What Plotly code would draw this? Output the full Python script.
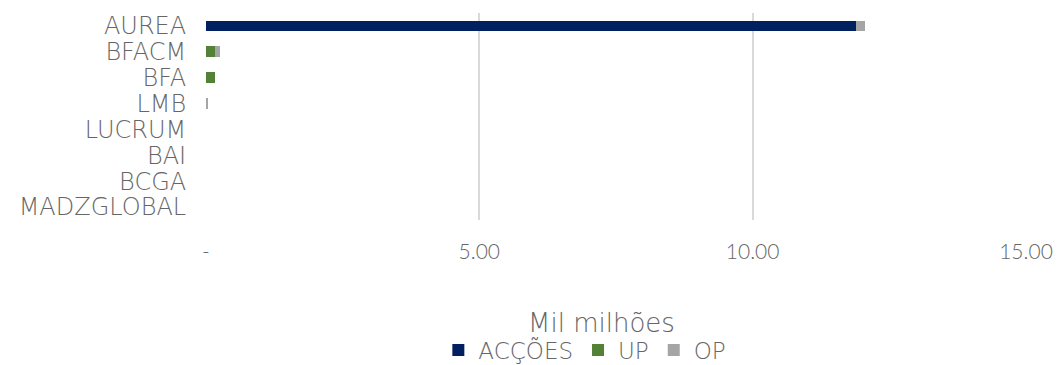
import plotly.graph_objects as go

categories = ["AUREA", "BFACM", "BFA", "LMB", "LUCRUM", "BAI", "BCGA", "MADZGLOBAL"]
accoes = [11.89, 0, 0, 0, 0, 0, 0, 0]
up = [0, 0.165, 0.165, 0, 0, 0, 0, 0]
op = [0.165, 0.10, 0, 0.02, 0, 0, 0, 0]

tick_vals = [0, 5, 10, 15]
tick_text = ["-", "5.00", "10.00", "15.00"]

FONT = "DejaVu Sans"
NUMFONT = "Lato"
GREY = "#666666"

fig = go.Figure()
fig.add_trace(go.Bar(y=categories, x=accoes, name="ACÇÕES", orientation="h",
                     marker=dict(color="#002060", line=dict(width=0))))
fig.add_trace(go.Bar(y=categories, x=up, name="UP", orientation="h",
                     marker=dict(color="#538135", line=dict(width=0))))
fig.add_trace(go.Bar(y=categories, x=op, name="OP", orientation="h",
                     marker=dict(color="#a5a5a5", line=dict(width=0))))

fig.update_layout(
    width=1059, height=365,
    barmode="stack", bargap=0.58,
    plot_bgcolor="white", paper_bgcolor="white",
    margin=dict(l=206, r=33, t=12.5, b=144.5, pad=0),
    font=dict(family=FONT, color=GREY, weight=200),
    xaxis=dict(range=[0, 15], tickvals=tick_vals, ticktext=tick_text,
               showgrid=True, gridcolor="#d9d9d9", gridwidth=2,
               zeroline=False, showline=False, automargin=False,
               ticks="outside", ticklen=0, ticklabelstandoff=13,
               tickfont=dict(size=21, family=NUMFONT, color=GREY, weight=300)),
    yaxis=dict(categoryorder="array", categoryarray=categories, autorange="reversed",
               tickmode="array", tickvals=categories, automargin=False,
               showgrid=False, zeroline=False, showline=False,
               ticks="outside", ticklen=0, ticklabelstandoff=14,
               tickfont=dict(size=24, family=FONT, color=GREY, weight=200)),
    legend=dict(orientation="h", x=0.462, xanchor="center",
                yref="container", y=1 - 350 / 365, yanchor="middle",
                font=dict(size=23, family=FONT, color=GREY, weight=200),
                itemwidth=30, traceorder="normal"),
    annotations=[dict(text="Mil milhões", xref="paper", yref="paper",
                      x=(601 - 206) / 820, y=(220.5 - 324) / 208,
                      xanchor="center", yanchor="middle", showarrow=False,
                      font=dict(size=26, family=FONT, color=GREY, weight=200))],
)

fig.write_html("out.html")
